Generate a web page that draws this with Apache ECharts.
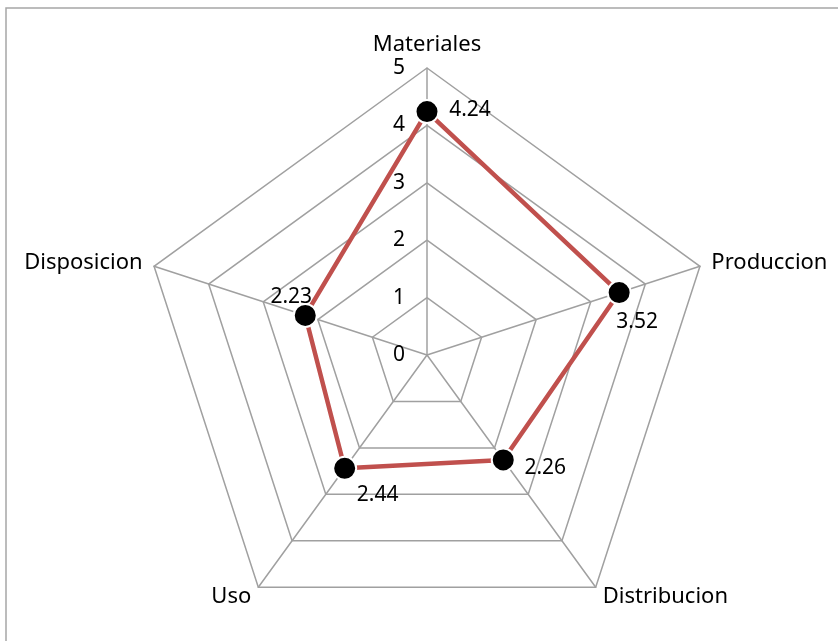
<!DOCTYPE html>
<html><head><meta charset="utf-8">
<script src="https://cdn.jsdelivr.net/npm/echarts@6/dist/echarts.min.js"></script>
<style>html,body{margin:0;padding:0;background:#fff}#c{width:838px;height:641px}</style>
</head><body><div id="c"></div>
<script>
// indicators listed counter-clockwise from the top, as ECharts places them
var categories = ['Materiales', 'Disposicion', 'Uso', 'Distribucion', 'Produccion'];
var values = [4.24, 2.23, 2.44, 2.26, 3.52];
var tickLabels = ['0', '1', '2', '3', '4', '5'];
var maxValue = 5;

var FONT = 'Noto Sans';
var FS = 21;
var chart = echarts.init(document.getElementById('c'));
function rs(pad) { return {fontSize: FS, fontFamily: FONT, color: '#000', padding: pad}; }
var richStyles = {
  a: rs([0, 0, 4, 86]),
  b: rs([0, 28, 36, 0]),
  c: rs([54, 0, 0, 66]),
  d: rs([16, 0, 0, 84]),
  e: rs([58, 0, 0, 36])
};
var styleByIndex = ['a', 'b', 'c', 'd', 'e'];
chart.setOption({
  animation: false,
  graphic: [{type: 'rect', shape: {x: 6, y: 8, width: 1000, height: 1000}, style: {fill: 'none', stroke: '#a6a6a6', lineWidth: 1.5}}],
  radar: {
    center: [427, 355],
    radius: 287,
    startAngle: 90,
    splitNumber: 5,
    shape: 'polygon',
    indicator: categories.map(function (n) { return {name: n, max: maxValue, min: 0}; }),
    axisName: {color: '#000', fontSize: 22, fontFamily: FONT},
    nameGap: 12,
    axisLine: {lineStyle: {color: '#a0a0a0', width: 1.5}},
    splitLine: {lineStyle: {color: '#a0a0a0', width: 1.5}},
    splitArea: {show: false},
    axisTick: {show: false},
    axisLabel: {show: false}
  },
  grid: {left: 427, top: 68, width: 1, height: 287, containLabel: false},
  xAxis: {type: 'value', show: false},
  yAxis: {
    type: 'value', min: 0, max: maxValue, interval: 1,
    axisLine: {show: false}, axisTick: {show: false}, splitLine: {show: false},
    axisLabel: {margin: 22, color: '#000', fontSize: FS, fontFamily: FONT,
      formatter: function (v) { return tickLabels[Math.round(v)]; }}
  },
  series: [{
    type: 'radar',
    symbol: 'circle',
    symbolSize: 23,
    itemStyle: {color: '#000', borderColor: '#fff', borderWidth: 2},
    lineStyle: {color: '#c0504d', width: 4.5},
    label: {
      show: true,
      position: 'inside',
      formatter: function (p) {
        var i = p.dimensionIndex;
        var v = (i != null && Array.isArray(p.value)) ? p.value[i] : p.value;
        var s = styleByIndex[i] || 'a';
        return '{' + s + '|' + Number(v).toFixed(2) + '}';
      },
      rich: richStyles
    },
    data: [{value: values, name: 'Serie'}],
    z: 3
  }]
});
</script></body></html>
